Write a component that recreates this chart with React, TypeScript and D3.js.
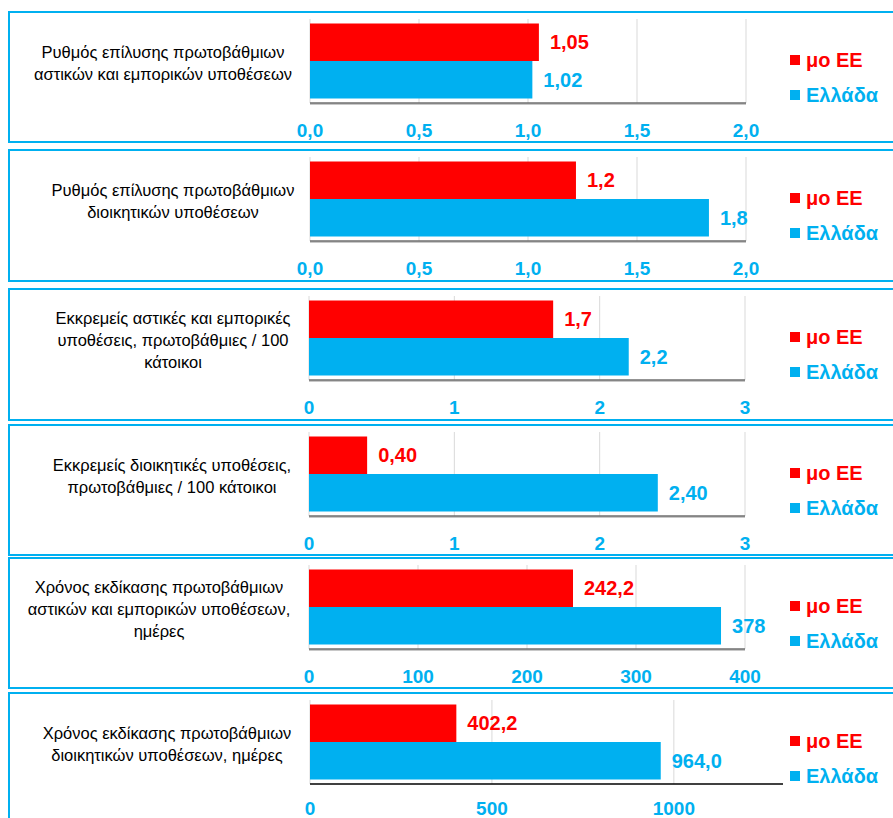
import React from 'react';
import * as d3 from 'd3';

// ---------- DATA ----------
const categoryLines: string[][] = [
  ['Ρυθμός επίλυσης πρωτοβάθμιων', 'αστικών και εμπορικών υποθέσεων'],
  ['Ρυθμός επίλυσης πρωτοβάθμιων', 'διοικητικών υποθέσεων'],
  ['Εκκρεμείς αστικές και εμπορικές', 'υποθέσεις, πρωτοβάθμιες / 100', 'κάτοικοι'],
  ['Εκκρεμείς διοικητικές υποθέσεις,', 'πρωτοβάθμιες / 100 κάτοικοι'],
  ['Χρόνος εκδίκασης πρωτοβάθμιων', 'αστικών και εμπορικών υποθέσεων,', 'ημέρες'],
  ['Χρόνος εκδίκασης πρωτοβάθμιων', 'διοικητικών υποθέσεων, ημέρες'],
];
const seriesNames = ['μο ΕΕ', 'Ελλάδα'];
const euValues = [1.05, 1.22, 1.68, 0.4, 242.2, 402.2];
const greeceValues = [1.02, 1.83, 2.2, 2.4, 378, 964.0];
const euValueLabels = ['1,05', '1,2', '1,7', '0,40', '242,2', '402,2'];
const greeceValueLabels = ['1,02', '1,8', '2,2', '2,40', '378', '964,0'];
const axisMax = [2, 2, 3, 3, 400, 1300];
const tickValues = [
  [0, 0.5, 1, 1.5, 2],
  [0, 0.5, 1, 1.5, 2],
  [0, 1, 2, 3],
  [0, 1, 2, 3],
  [0, 100, 200, 300, 400],
  [0, 500, 1000],
];
const tickLabels = [
  ['0,0', '0,5', '1,0', '1,5', '2,0'],
  ['0,0', '0,5', '1,0', '1,5', '2,0'],
  ['0', '1', '2', '3'],
  ['0', '1', '2', '3'],
  ['0', '100', '200', '300', '400'],
  ['0', '500', '1000'],
];

// ---------- LAYOUT ----------
const panelTop = [12, 150, 289, 425, 558, 693];
const panelBottom = [142, 281, 420, 555, 688, 840];
const plotLeft = [310, 310, 309, 309, 309, 310];
const plotRight = [746, 746, 745, 745, 745, 783];
const labelCX = [163, 173, 173, 172, 159, 167];

const RED = '#FF0000';
const BLUE = '#00B0F0';
const FONT = '"Liberation Sans", Arial, sans-serif';

function Panel({ i }: { i: number }) {
  const top = panelTop[i];
  const x = d3.scaleLinear().domain([0, axisMax[i]]).range([plotLeft[i], plotRight[i]]);
  const y = d3
    .scaleBand<string>()
    .domain(seriesNames)
    .range([top + 7, top + 91])
    .paddingInner(0)
    .paddingOuter(0.12);
  const vals = [euValues[i], greeceValues[i]];
  const labs = [euValueLabels[i], greeceValueLabels[i]];
  const colors = [RED, BLUE];
  const lines = categoryLines[i];
  const lineH = 22;
  const cy = top + 50.5;
  const last = i === 5;
  return (
    <g>
      <rect
        x={9}
        y={top}
        width={900}
        height={panelBottom[i] - top}
        fill="#fff"
        stroke={BLUE}
        strokeWidth={2}
      />
      {tickValues[i].map((t) => (
        <line
          key={'g' + t}
          x1={x(t)}
          x2={x(t)}
          y1={top + 7}
          y2={top + 91}
          stroke="#D9D9D9"
          strokeWidth={1}
        />
      ))}
      {seriesNames.map((s, k) => (
        <rect
          key={s}
          x={x(0)}
          y={y(s)}
          width={x(vals[k]) - x(0)}
          height={y.bandwidth()}
          fill={colors[k]}
        />
      ))}
      {seriesNames.map((s, k) => (
        <text
          key={'v' + s}
          x={x(vals[k]) + 11}
          y={(y(s) as number) + y.bandwidth() / 2}
          dominantBaseline="central"
          fill={colors[k]}
          fontFamily={FONT}
          fontWeight="bold"
          fontSize={20}
        >
          {labs[k]}
        </text>
      ))}
      {!last && (
        <line
          x1={plotLeft[i]}
          x2={plotRight[i]}
          y1={top + 92}
          y2={top + 92}
          stroke="#C8C8C8"
          strokeWidth={2}
        />
      )}
      <line
        x1={plotLeft[i]}
        x2={plotRight[i]}
        y1={top + 91}
        y2={top + 91}
        stroke={last ? '#000' : '#6F6F6F'}
        strokeWidth={1.5}
      />
      {tickValues[i].map((t, k) => (
        <text
          key={'t' + t}
          x={x(t)}
          y={top + (last ? 115 : 118)}
          textAnchor="middle"
          dominantBaseline="central"
          fill={BLUE}
          fontFamily={FONT}
          fontWeight="bold"
          fontSize={19}
        >
          {tickLabels[i][k]}
        </text>
      ))}
      {lines.map((l, k) => (
        <text
          key={'c' + k}
          x={labelCX[i]}
          y={cy + (k - (lines.length - 1) / 2) * lineH}
          textAnchor="middle"
          dominantBaseline="central"
          fill="#000"
          fontFamily={FONT}
          fontSize={16.5}
        >
          {l}
        </text>
      ))}
      {seriesNames.map((s, k) => {
        const ly = top + 48 + k * 35;
        return (
          <g key={'l' + s}>
            <rect x={790} y={ly - 5} width={10} height={10} fill={colors[k]} />
            <text
              x={806}
              y={ly}
              dominantBaseline="central"
              fill={colors[k]}
              fontFamily={FONT}
              fontWeight="bold"
              fontSize={20}
            >
              {s}
            </text>
          </g>
        );
      })}
    </g>
  );
}

export default function App() {
  return (
    <svg
      width={893}
      height={818}
      style={{ position: 'absolute', left: 0, top: 0, background: '#fff' }}
    >
      <rect x={0} y={0} width={893} height={818} fill="#fff" />
      {categoryLines.map((_, i) => (
        <Panel key={i} i={i} />
      ))}
    </svg>
  );
}
